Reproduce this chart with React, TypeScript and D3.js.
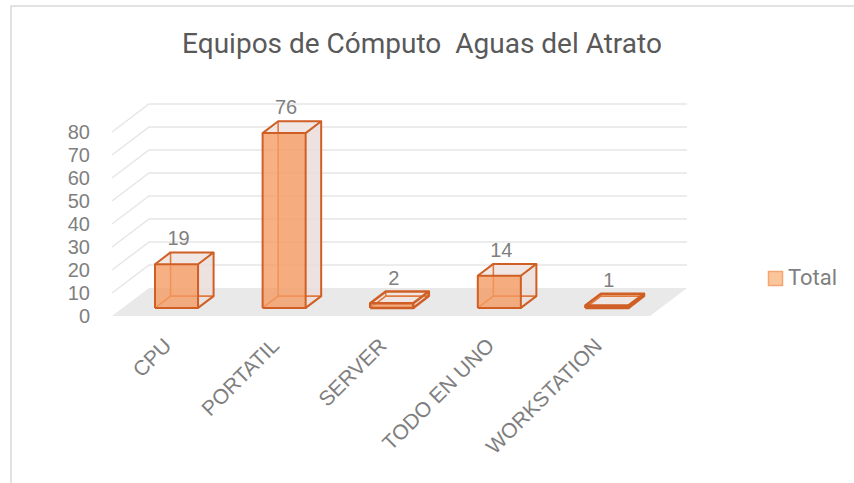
import React from 'react';
import * as d3 from 'd3';

const categories = ['CPU', 'PORTATIL', 'SERVER', 'TODO EN UNO', 'WORKSTATION'];
const totals = [19, 76, 2, 14, 1];
const yTicks = [0, 10, 20, 30, 40, 50, 60, 70, 80];
const title = 'Equipos de Cómputo  Aguas del Atrato';
const seriesName = 'Total';

const W = 854;
const H = 483;
// oblique depth offset of the 3D floor
const DX = 37;
const DY = 28;
const Z0 = 0.29;
const Z1 = 0.71;

const App: React.FC = () => {
  const x = d3.scaleBand<string>()
    .domain(categories)
    .range([112, 650])
    .paddingInner(0.6)
    .paddingOuter(0.3);

  const y = d3.scaleLinear().domain([0, 80]).range([316, 132]);

  const P = (px: number, v: number, z: number): [number, number] => [px + z * DX, y(v) - z * DY];
  const poly = (pts: [number, number][]) => d3.line()(pts.concat([pts[0]])) as string;

  const floorL = 112;
  const floorR = 650;
  const textGray = '#7f7f7f';
  const edge = '#cf5f24';

  return (
    <svg width={W} height={H} style={{ position: 'absolute', left: 0, top: 0 }}
      fontFamily="'Liberation Sans', Arial, sans-serif">
      <rect x={0} y={0} width={W} height={H} fill="#fff" />
      <rect x={11} y={6} width={W + 20} height={H + 20} fill="none" stroke="#d9d9d9" strokeWidth={1.5} />

      <text x={422} y={53} textAnchor="middle" fontSize={28} fill="#595959"
        fontFamily="Roboto, 'Noto Sans', sans-serif" style={{ whiteSpace: 'pre' }}>{title}</text>

      {/* gridlines: side wall + back wall */}
      {yTicks.filter(t => t > 0).map(t => {
        const a = P(floorL, t, 0);
        const b = P(floorL, t, 1);
        const c = P(floorR, t, 1);
        return (
          <path key={t} d={d3.line()([a, b, c]) as string} fill="none" stroke="#e6e6e6" strokeWidth={1.5} />
        );
      })}

      {/* floor */}
      <path d={poly([P(floorL, 0, 0), P(floorL, 0, 1), P(floorR, 0, 1), P(floorR, 0, 0)])} fill="#e9e9e9" />

      {/* y axis labels */}
      {yTicks.map(t => (
        <text key={t} x={90} y={y(t)} textAnchor="end" dominantBaseline="central" fontSize={20} fill={textGray}>{t}</text>
      ))}

      {/* bars */}
      {categories.map((c, i) => {
        const v = totals[i];
        const x0 = x(c) as number;
        const x1 = x0 + x.bandwidth();
        const f00 = P(x0, 0, Z0), f10 = P(x1, 0, Z0), f11 = P(x1, v, Z0), f01 = P(x0, v, Z0);
        const b00 = P(x0, 0, Z1), b10 = P(x1, 0, Z1), b11 = P(x1, v, Z1), b01 = P(x0, v, Z1);
        const sw = v < 3 ? 2.5 : 2;
        return (
          <g key={c}>
            {/* hidden faces */}
            <path d={poly([b00, b10, b11, b01])} fill="#efe6e3" fillOpacity={0.6} />
            {/* right side and top */}
            <path d={poly([f10, b10, b11, f11])} fill="#e9dcd8" fillOpacity={0.7} />
            <path d={poly([f01, f11, b11, b01])} fill="#efe5e2" fillOpacity={0.9} />
            {/* hidden edges */}
            <path d={d3.line()([f00, b00, b10]) as string} fill="none" stroke="#e27a3f" strokeWidth={1.6} />
            <path d={d3.line()([b00, b01]) as string} fill="none" stroke="#e27a3f" strokeWidth={1.6} />
            {/* front face */}
            <path d={poly([f00, f10, f11, f01])} fill="#f59a60" fillOpacity={0.78} />
            {/* visible edges */}
            <path d={poly([f00, f10, f11, f01])} fill="none" stroke={edge} strokeWidth={sw} strokeLinejoin="round" />
            <path d={d3.line()([f01, b01, b11, f11]) as string} fill="none" stroke={edge} strokeWidth={sw} strokeLinejoin="round" />
            <path d={d3.line()([f10, b10, b11]) as string} fill="none" stroke={edge} strokeWidth={sw} strokeLinejoin="round" />
            <text x={(f00[0] + f10[0]) / 2 + 2} y={b11[1] - 7} textAnchor="middle" fontSize={20} fill={textGray}>{v}</text>
          </g>
        );
      })}

      {/* category labels */}
      {categories.map(c => {
        const cx = (x(c) as number) + x.bandwidth() / 2 + 7;
        const cy = 347;
        return (
          <text key={c} transform={`translate(${cx},${cy}) rotate(-45)`} textAnchor="end" fontSize={21} fill={textGray}>{c}</text>
        );
      })}

      {/* legend */}
      <rect x={768.5} y={271.5} width={14} height={14} fill="#fbc59c" stroke="#f4a672" strokeWidth={1.5} />
      <text x={788} y={285} fontSize={22} fill={textGray} fontFamily="Roboto, 'Noto Sans', sans-serif">{seriesName}</text>
    </svg>
  );
};

export default App;
